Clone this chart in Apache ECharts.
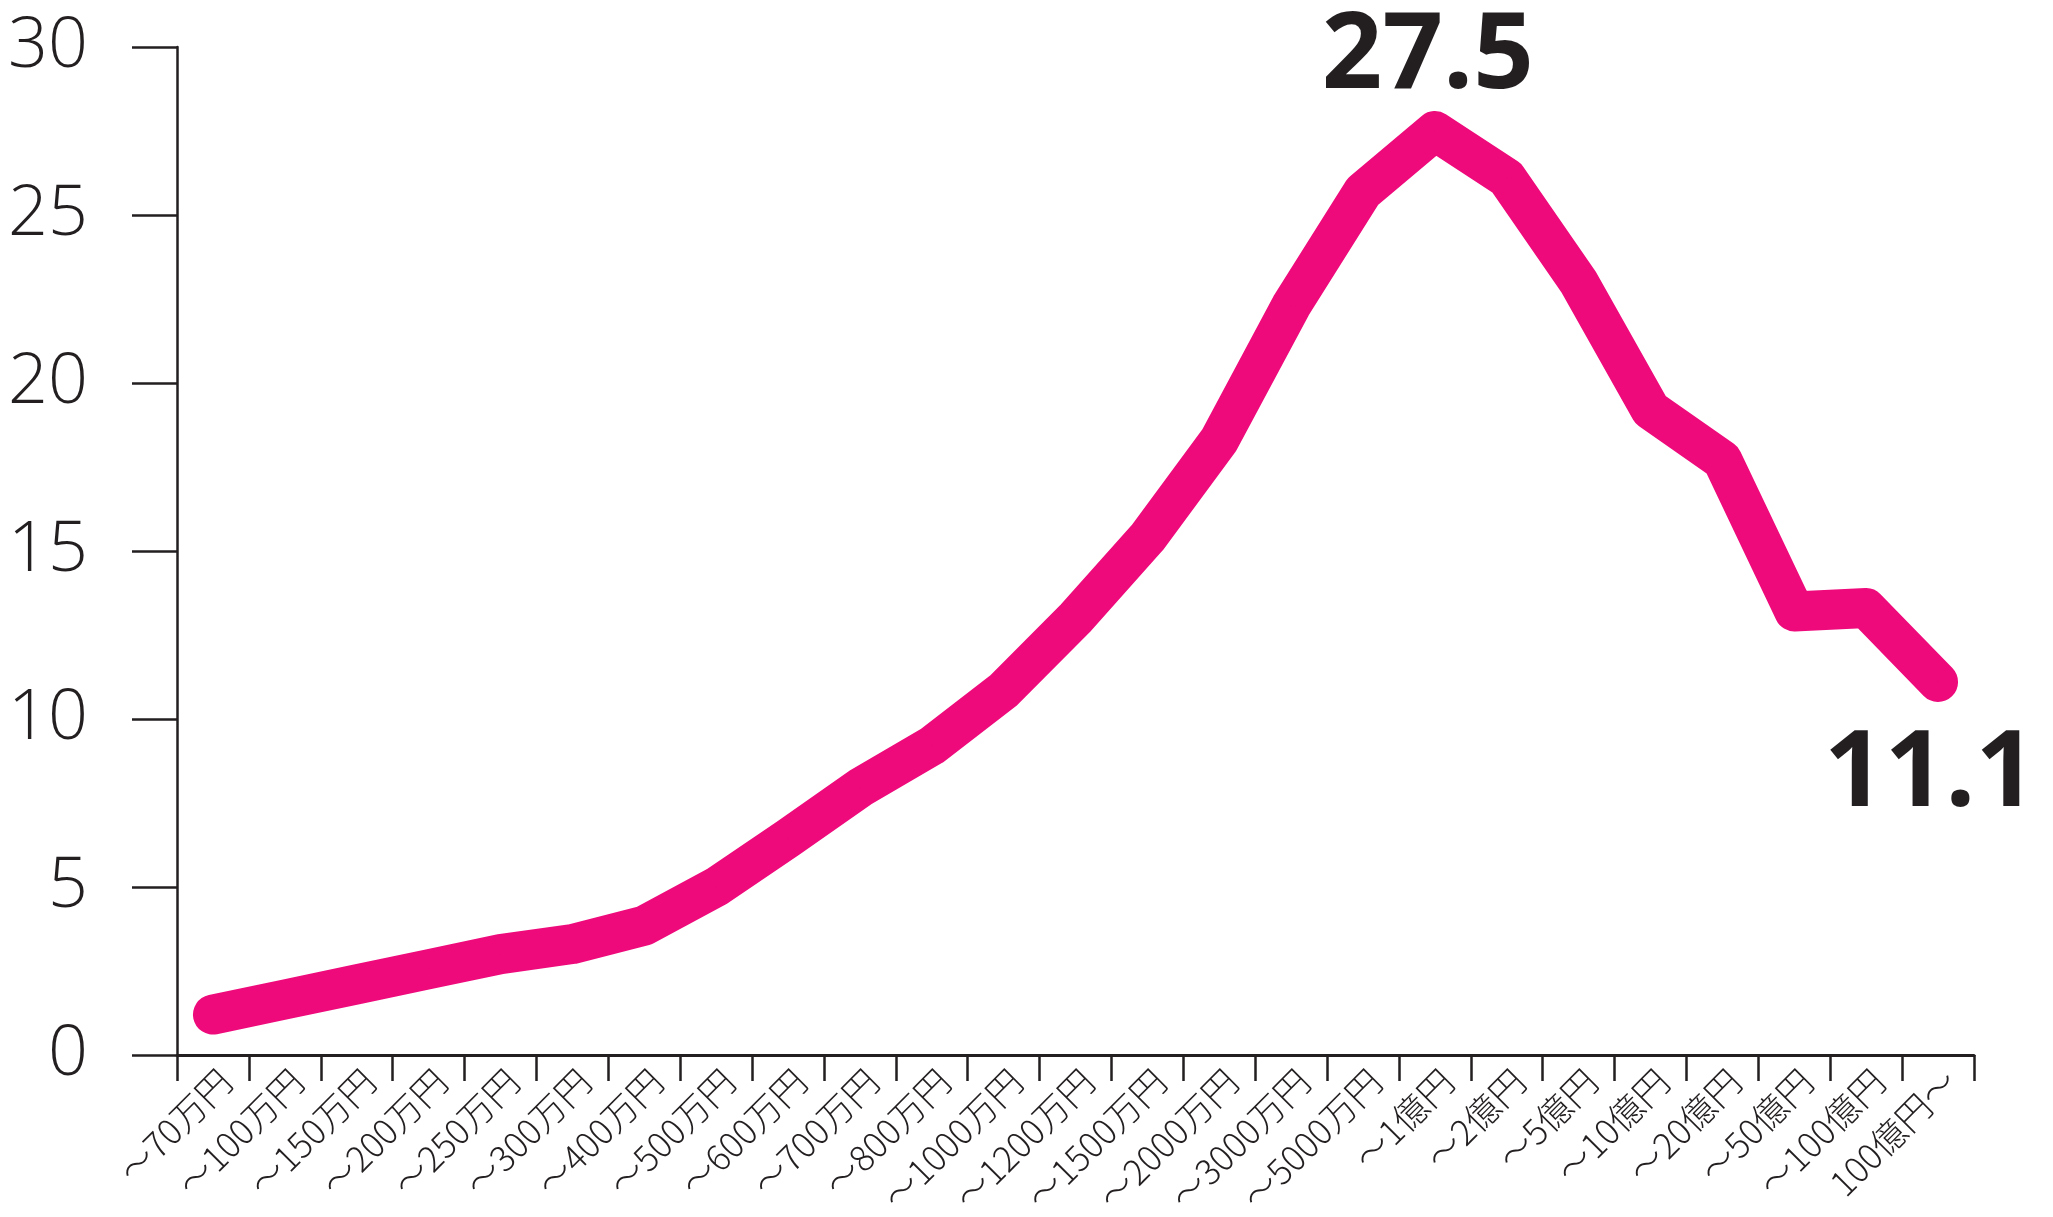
<!DOCTYPE html>
<html>
<head>
<meta charset="utf-8">
<script src="https://cdn.jsdelivr.net/npm/echarts@6/dist/echarts.min.js"></script>
<style>
html,body{margin:0;padding:0;background:#fff;}
#chart{width:2053px;height:1217px;}
</style>
</head>
<body>
<div id="chart"></div>
<script>
const categories = ['〜70万円','〜100万円','〜150万円','〜200万円','〜250万円','〜300万円','〜400万円','〜500万円','〜600万円','〜700万円','〜800万円','〜1000万円','〜1200万円','〜1500万円','〜2000万円','〜3000万円','〜5000万円','〜1億円','〜2億円','〜5億円','〜10億円','〜20億円','〜50億円','〜100億円','100億円〜'];
const values = [1.2, 1.65, 2.1, 2.55, 3.0, 3.3, 3.85, 5.0, 6.45, 7.95, 9.2, 10.85, 13.0, 15.4, 18.3, 22.3, 25.7, 27.5, 26.1, 23.0, 19.2, 17.7, 13.2, 13.3, 11.1];
const yTicks = [0, 5, 10, 15, 20, 25, 30];
const labelTopIndex = [17];
const labelBottomIndex = [24];

const ink = '#231F20';
const pink = '#EE0A7B';

const seriesData = values.map((v, i) => {
  if (labelTopIndex.includes(i)) {
    return {value: v, label: {show: true, position: 'top', distance: 20, offset: [-7, 0]}};
  }
  if (labelBottomIndex.includes(i)) {
    return {value: v, label: {show: true, position: 'bottom', distance: 40, offset: [-8, 0]}};
  }
  return {value: v};
});

const chart = echarts.init(document.getElementById('chart'));
chart.setOption({
  backgroundColor: '#fff',
  animation: false,
  grid: {left: 177, right: 79, top: 47, bottom: 144, containLabel: false},
  xAxis: {
    type: 'category',
    data: categories,
    boundaryGap: true,
    axisLine: {show: true, lineStyle: {color: ink, width: 3}},
    axisTick: {show: true, length: 26, interval: 0, lineStyle: {color: ink, width: 2.5}},
    axisLabel: {
      interval: 0, rotate: 45, margin: 8, verticalAlign: 'top',
      fontFamily: '"Noto Sans CJK JP", "Noto Sans", sans-serif',
      fontWeight: 300, fontSize: 35, color: ink
    },
    splitLine: {show: false}
  },
  yAxis: {
    type: 'value',
    min: yTicks[0], max: yTicks[yTicks.length - 1], interval: 5,
    axisLine: {show: true, lineStyle: {color: ink, width: 2.5}},
    axisTick: {show: true, length: 45, lineStyle: {color: ink, width: 2.5}},
    axisLabel: {
      margin: 89, fontSize: 70, color: ink,
      fontFamily: '"Open Sans", "Noto Sans", sans-serif', fontWeight: 300
    },
    splitLine: {show: false}
  },
  series: [{
    type: 'line',
    data: seriesData,
    symbol: 'circle',
    symbolSize: 1,
    showSymbol: true,
    itemStyle: {color: pink},
    lineStyle: {color: pink, width: 40, cap: 'round', join: 'round'},
    label: {
      show: false,
      fontFamily: '"Open Sans", "Noto Sans", sans-serif',
      fontWeight: 700, fontSize: 106, color: ink
    },
    emphasis: {disabled: true}
  }]
});
</script>
</body>
</html>
